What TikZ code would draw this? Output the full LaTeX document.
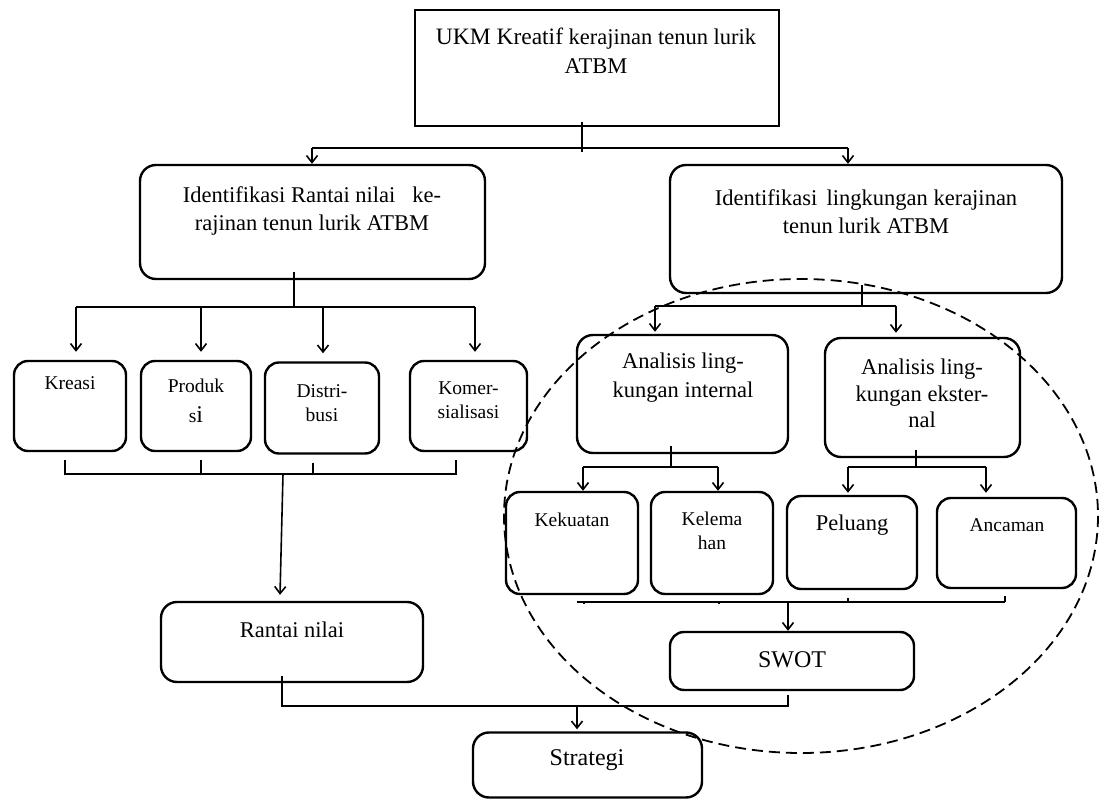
\documentclass[tikz,border=0pt]{standalone}
\usepackage{fontspec}
\setmainfont{Liberation Serif}
\usetikzlibrary{arrows.meta}
\tikzset{
  box/.style={draw, line width=2.4pt, rounded corners=16pt, inner sep=0pt},
  sbox/.style={box, rounded corners=14pt},
  conn/.style={line width=1.6pt},
  arr/.style={conn, -{Straight Barb[length=7pt,width=11pt]}},
  txt/.style={inner sep=0pt, align=center, font=\fontsize{22.5}{28.5}\selectfont},
  stxt/.style={inner sep=0pt, align=center, font=\fontsize{19.5}{24.5}\selectfont},
}
\begin{document}
\begin{tikzpicture}[x=1pt,y=-1pt]
\useasboundingbox (0,0) rectangle (1101,799);

% dashed ellipse
\draw[line width=1.8pt, dash pattern=on 11pt off 6pt] (801,516) ellipse [x radius=297, y radius=237];

% ---- boxes ----
\node[draw, line width=2.8pt, inner sep=0pt, minimum width=364pt, minimum height=116pt] (top) at (597,68) {};
\node[txt] (ttop) at (596,51) {{\fontsize{23.5}{28.5}\selectfont UKM Kreatif} kerajinan tenun lurik\\ATBM};

\node[box, minimum width=345pt, minimum height=114pt] (idl) at (312.5,222) {};
\node[txt] (tidl) at (312,211) {Identifikasi Rantai nilai \ \ ke-\\rajinan tenun lurik ATBM};

\node[box, minimum width=392pt, minimum height=128pt] (idr) at (866,229) {};
\node[txt] (tidr) at (866,211.5) {Identifikasi\, lingkungan kerajinan\\tenun lurik ATBM};

\node[sbox, minimum width=112pt, minimum height=90pt] (kre) at (70,406) {};
\node[stxt] (tkre) at (70,383) {Kreasi};
\node[sbox, minimum width=110pt, minimum height=90pt] (pro) at (196,406) {};
\node[stxt] (tpro) at (196,401) {Produk\\[6pt]s{\fontsize{24}{25}\selectfont i}};
\node[sbox, minimum width=114pt, minimum height=91pt] (dis) at (322,408) {};
\node[stxt] (tdis) at (322,403) {Distri-\\busi};
\node[sbox, minimum width=117pt, minimum height=90pt] (kom) at (468.5,406) {};
\node[stxt] (tkom) at (468.5,400) {Komer-\\sialisasi};

\node[box, minimum width=262pt, minimum height=80pt] (ran) at (292,642) {};
\node[txt] (tran) at (292,630) {Rantai nilai};

\node[box, minimum width=229pt, minimum height=65pt] (str) at (587.5,765) {};
\node[txt, font=\fontsize{24}{28}\selectfont] (tstr) at (587,760) {Strategi};

\node[box, minimum width=211pt, minimum height=118pt] (ain) at (682.5,394) {};
\node[txt] (tain) at (683,377.5) {Analisis ling-\\kungan internal};
\node[box, minimum width=195pt, minimum height=119pt] (aex) at (922.5,397.5) {};
\node[txt, font=\fontsize{22.5}{26.5}\selectfont] (taex) at (922,393.5) {Analisis ling-\\kungan ekster-\\nal};

\node[sbox, minimum width=132pt, minimum height=102pt] (kek) at (572,543) {};
\node[stxt] (tkek) at (572,520) {Kekuatan};
\node[sbox, minimum width=122pt, minimum height=102pt] (kel) at (712,543) {};
\node[stxt] (tkel) at (712,531) {Kelema\\han};
\node[sbox, minimum width=130pt, minimum height=93pt] (pel) at (852,542.5) {};
\node[stxt, font=\fontsize{22.5}{26}\selectfont] (tpel) at (852,525) {Peluang};
\node[sbox, minimum width=139pt, minimum height=90pt] (anc) at (1006.5,543) {};
\node[stxt] (tanc) at (1007,525) {Ancaman};

\node[box, rounded corners=14pt, minimum width=244pt, minimum height=58pt] (swot) at (792,661) {};
\node[txt, font=\fontsize{24}{28}\selectfont] (tswot) at (792,660) {SWOT};

% ---- connectors ----
% top level
\coordinate (t0) at (582,122);
\coordinate (t1) at (582,152);
\coordinate (hl) at (312,148);
\coordinate (hr) at (848,148);
\draw[conn] (t0) -- (t1);
\draw[conn] (hl) -- (hr);
\draw[arr] (hl) -- (hl |- idl.north);
\draw[arr] (hr) -- (hr |- idr.north);

% left branch
\coordinate (l0) at (294,272);
\coordinate (l1) at (294,307);
\draw[conn] (l0) -- (l1);
\coordinate (la) at (76,307);
\coordinate (lb) at (201,307);
\coordinate (lc) at (323,307);
\coordinate (ld) at (475,307);
\draw[conn] (la) -- (ld);
\draw[arr] (la) -- ([yshift=8pt]la |- kre.north);
\draw[arr] (lb) -- ([yshift=8pt]lb |- pro.north);
\draw[arr] (lc) -- ([yshift=8pt]lc |- dis.north);
\draw[arr] (ld) -- ([yshift=8pt]ld |- kom.north);

\coordinate (ba) at (65,474);
\coordinate (bb) at (201,474);
\coordinate (bc) at (313,474);
\coordinate (bd) at (456,474);
\draw[conn] ([yshift=-8pt]ba |- kre.south) -- (ba) -- (bd) -- ([yshift=-8pt]bd |- kom.south);
\draw[conn] ([yshift=-8pt]bb |- pro.south) -- (bb);
\draw[conn] ([yshift=-8pt]bc |- dis.south) -- (bc);
\coordinate (bx) at (283,474);
\draw[arr] (bx) -- ([xshift=-12pt,yshift=6pt]ran.north);

% rantai -> strategi
\coordinate (r0) at (282,676);
\coordinate (r1) at (282,706);
\coordinate (r2) at (788,706);
\coordinate (r3) at (577,706);
\draw[conn] (r0) -- (r1) -- (r2) -- ([yshift=-4pt]swot.south -| r2);
\draw[arr] (r3) -- ([yshift=2pt]r3 |- str.north);

% right branch
\coordinate (q0) at (862,285);
\coordinate (q1) at (862,306);
\coordinate (qa) at (655,306);
\coordinate (qb) at (896,306);
\draw[conn] (q0) -- (q1);
\draw[conn] (qa) -- (qb);
\draw[arr] (qa) -- ([yshift=2pt]qa |- ain.north);
\draw[arr] (qb) -- ([yshift=4pt]qb |- aex.north);

% internal
\coordinate (i0) at (671,446);
\coordinate (i1) at (671,467);
\coordinate (ia) at (583,467);
\coordinate (ib) at (718,467);
\draw[conn] (i0) -- (i1);
\draw[conn] (ia) -- (ib);
\draw[arr] (ia) -- (ia |- kek.north);
\draw[arr] (ib) -- (ib |- kel.north);

% external
\coordinate (e0) at (916,450);
\coordinate (e1) at (916,467);
\coordinate (ea) at (848,467);
\coordinate (eb) at (986,467);
\draw[conn] (e0) -- (e1);
\draw[conn] (ea) -- (eb);
\draw[arr] (ea) -- ([yshift=2pt]ea |- pel.north);
\draw[arr] (eb) -- ([yshift=4pt]eb |- anc.north);

% SWOT collection
\coordinate (s0) at (577,602);
\coordinate (sa) at (584,602);
\coordinate (sb) at (719,602);
\coordinate (sc) at (848,602);
\coordinate (sd) at (1005,602);
\coordinate (sm) at (788,602);
\draw[conn] (s0) -- (sd);
\draw[conn] ([yshift=-9pt]sa |- kek.south) -- (sa);
\draw[conn] ([yshift=-9pt]sb |- kel.south) -- (sb);
\draw[conn] ([yshift=-8pt]sc |- pel.south) -- (sc);
\draw[conn] ([yshift=-7pt]sd |- anc.south) -- (sd);
\draw[arr] (sm) -- (sm |- swot.north);
\end{tikzpicture}
\end{document}
